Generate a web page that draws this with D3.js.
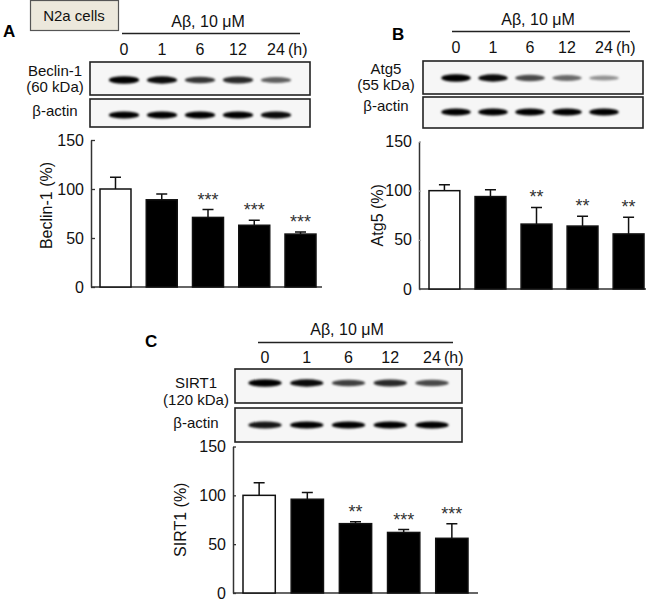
<!DOCTYPE html>
<html>
<head>
<meta charset="utf-8">
<script src="https://cdnjs.cloudflare.com/ajax/libs/d3/7.8.5/d3.min.js"></script>
<style>
  body { margin: 0; background: #fff; }
  svg { font-family: "Liberation Sans", Arial, sans-serif; }
</style>
</head>
<body>
<svg id="fig" width="652" height="601"></svg>
<script>
// time points (h) after A-beta treatment
const lanes = ['0', '1', '6', '12', '24'];
const yTicks = [0, 50, 100, 150];

// Beclin-1 (%), mean and upper SEM
const beclinMean = [100, 89, 71, 63, 54];
const beclinErr = [12, 6, 8, 5, 2];
const beclinStars = ['', '', '***', '***', '***'];
const beclinBand = [1, 0.95, 0.75, 0.8, 0.55];   // band darkness 0..1
const beclinActin = [1, 1, 1, 1, 0.95];

// Atg5 (%)
const atg5Mean = [100, 94, 66, 64, 56];
const atg5Err = [6, 7, 17, 10, 17];
const atg5Stars = ['', '', '**', '**', '**'];
const atg5Band = [1, 0.95, 0.65, 0.5, 0.3];
const atg5Actin = [1, 1, 1, 1, 1];

// SIRT1 (%)
const sirt1Mean = [100, 96, 71, 62, 56];
const sirt1Err = [13, 7, 2, 3, 15];
const sirt1Stars = ['', '', '**', '***', '***'];
const sirt1Band = [1, 0.95, 0.7, 0.8, 0.65];
const sirt1Actin = [0.9, 1, 1, 1, 1];

let svg = d3.select('#fig');

let defs = svg.append('defs');
defs.append('filter')
  .attr('id', 'blur')
  .attr('x', '-20%').attr('y', '-100%')
  .attr('width', '140%').attr('height', '300%')
  .append('feGaussianBlur')
  .attr('stdDeviation', 1.2);

// N2a cells box
svg.append('rect')
  .attr('x', 30.5).attr('y', 0.5)
  .attr('width', 88).attr('height', 30)
  .attr('fill', '#ece8dc')
  .attr('stroke', '#555')
  .attr('stroke-width', 1.2);
svg.append('text')
  .attr('x', 74).attr('y', 21)
  .attr('text-anchor', 'middle')
  .attr('font-size', 15)
  .attr('fill', '#111')
  .text('N2a cells');

let drawPanel = function (p) {
  let g = svg.append('g');

  // panel letter
  g.append('text')
    .attr('x', p.letterX).attr('y', p.letterY)
    .attr('font-size', 17)
    .attr('font-weight', 'bold')
    .text(p.letter);

  // treatment header
  g.append('text')
    .attr('x', p.treatX).attr('y', p.treatY)
    .attr('text-anchor', 'middle')
    .attr('font-size', 16)
    .attr('fill', '#111')
    .text('Aβ, 10 μM');
  g.append('line')
    .attr('x1', p.lineX0).attr('x2', p.lineX1)
    .attr('y1', p.lineY).attr('y2', p.lineY)
    .attr('stroke', '#222')
    .attr('stroke-width', 1.5);

  let lane = d3.scalePoint()
    .domain(lanes)
    .range(p.laneRange);

  g.selectAll('.lane')
    .data(lanes)
    .enter().append('text')
    .attr('class', 'lane')
    .attr('x', (d) => lane(d))
    .attr('y', p.laneY)
    .attr('text-anchor', 'middle')
    .attr('font-size', 16)
    .attr('fill', '#111')
    .text((d) => d);
  g.append('text')
    .attr('x', lane('24') + 12)
    .attr('y', p.laneY)
    .attr('font-size', 16)
    .attr('fill', '#111')
    .text('(h)');

  // blots
  let blot = function (y0, y1, bandY, values, thick) {
    g.append('rect')
      .attr('x', p.blotX0).attr('y', y0)
      .attr('width', p.blotX1 - p.blotX0)
      .attr('height', y1 - y0)
      .attr('fill', '#f6f6f6')
      .attr('stroke', '#222')
      .attr('stroke-width', 1.6);
    let w = lane.step() * 0.8;
    g.append('g')
      .attr('filter', 'url(#blur)')
      .selectAll('ellipse')
      .data(values)
      .enter().append('ellipse')
      .attr('cx', (d, i) => lane(lanes[i]))
      .attr('cy', bandY)
      .attr('rx', w / 2)
      .attr('ry', (d) => thick ? 3.6 : 2 + 1.8 * d)
      .attr('fill', '#000')
      .attr('opacity', (d) => 0.15 + 0.85 * d);
  };
  blot(p.protY0, p.protY1, p.protBandY, p.band, false);
  blot(p.actY0, p.actY1, p.actBandY, p.actin, true);

  g.selectAll('.pname')
    .data(p.names)
    .enter().append('text')
    .attr('class', 'pname')
    .attr('x', p.nameX)
    .attr('y', (d) => d[1])
    .attr('text-anchor', 'middle')
    .attr('font-size', 15)
    .attr('fill', '#111')
    .text((d) => d[0]);

  // bar chart
  let x = d3.scaleBand()
    .domain(lanes)
    .range([p.bar0, p.bar1])
    .paddingInner(0.33)
    .paddingOuter(0);

  let y = d3.scaleLinear()
    .domain([0, 150])
    .range([p.yBottom, p.yTop]);

  let ax = g.append('g')
    .attr('transform', 'translate(' + p.axisX + ',0)')
    .call(d3.axisLeft(y).tickValues(yTicks).tickSizeInner(-p.tickLen).tickSizeOuter(0).tickPadding(7));
  ax.select('.domain').attr('stroke', '#333').attr('stroke-width', 1.5);
  ax.selectAll('.tick line').attr('stroke', p.tickColor).attr('stroke-width', 1.3);
  ax.selectAll('.tick text')
    .attr('font-size', 16)
    .attr('fill', '#111')
    .attr('font-family', '"Liberation Sans", Arial, sans-serif');

  g.append('line')
    .attr('x1', p.axisX).attr('x2', p.xEnd)
    .attr('y1', y(0)).attr('y2', y(0))
    .attr('stroke', '#333')
    .attr('stroke-width', 1.5);

  let rows = lanes.map((l, i) => ({lane: l, mean: p.mean[i], err: p.err[i], star: p.stars[i], i: i}));

  // error bars
  g.selectAll('.err')
    .data(rows)
    .enter().append('path')
    .attr('class', 'err')
    .attr('d', (d) => {
      let cx = x(d.lane) + x.bandwidth() / 2;
      return 'M' + cx + ',' + y(d.mean) + 'V' + y(d.mean + d.err) +
        'M' + (cx - 5.5) + ',' + y(d.mean + d.err) + 'H' + (cx + 5.5);
    })
    .attr('fill', 'none')
    .attr('stroke', '#111')
    .attr('stroke-width', 1.5);

  g.selectAll('.bar')
    .data(rows)
    .enter().append('rect')
    .attr('class', 'bar')
    .attr('x', (d) => x(d.lane))
    .attr('width', x.bandwidth())
    .attr('y', (d) => y(d.mean))
    .attr('height', (d) => y(0) - y(d.mean))
    .attr('fill', (d) => d.i === 0 ? '#fff' : '#000')
    .attr('stroke', '#111')
    .attr('stroke-width', 1.5);

  g.selectAll('.star')
    .data(rows.filter((d) => d.star))
    .enter().append('text')
    .attr('class', 'star')
    .attr('x', (d) => x(d.lane) + x.bandwidth() / 2)
    .attr('y', (d) => y(d.mean + d.err) - 4)
    .attr('text-anchor', 'middle')
    .attr('font-size', 18)
    .attr('fill', '#333')
    .text((d) => d.star);

  g.append('text')
    .attr('transform', 'translate(' + p.ylabelX + ',' + ((y(0) + y(150)) / 2 + p.ylabelDy) + ') rotate(-90)')
    .attr('text-anchor', 'middle')
    .attr('dy', '0.35em')
    .attr('font-size', 16)
    .attr('fill', '#111')
    .text(p.ylabel);
};

drawPanel({
  letter: 'A', letterX: 3, letterY: 37,
  treatX: 208, treatY: 27, lineX0: 122, lineX1: 300, lineY: 33.5,
  laneRange: [124, 276], laneY: 55,
  blotX0: 90, blotX1: 310,
  protY0: 62, protY1: 95, protBandY: 80,
  actY0: 99, actY1: 127, actBandY: 115,
  band: beclinBand, actin: beclinActin,
  nameX: 55, names: [['Beclin-1', 76], ['(60 kDa)', 92], ['β-actin', 116]],
  axisX: 91, xEnd: 322, bar0: 100, bar1: 316, yTop: 140, yBottom: 287,
  tickLen: 4, tickColor: '#333',
  mean: beclinMean, err: beclinErr, stars: beclinStars,
  ylabel: 'Beclin-1 (%)', ylabelX: 46, ylabelDy: -8
});

drawPanel({
  letter: 'B', letterX: 392, letterY: 40,
  treatX: 538, treatY: 25, lineX0: 452, lineX1: 630, lineY: 31.5,
  laneRange: [456, 604], laneY: 53,
  blotX0: 423, blotX1: 643,
  protY0: 61, protY1: 94, protBandY: 78,
  actY0: 97, actY1: 128, actBandY: 112,
  band: atg5Band, actin: atg5Actin,
  nameX: 386, names: [['Atg5', 74], ['(55 kDa)', 90], ['β-actin', 111]],
  axisX: 419, xEnd: 646, bar0: 429, bar1: 644, yTop: 141.5, yBottom: 289,
  tickLen: 2, tickColor: '#aaa',
  mean: atg5Mean, err: atg5Err, stars: atg5Stars,
  ylabel: 'Atg5 (%)', ylabelX: 377, ylabelDy: 0
});

drawPanel({
  letter: 'C', letterX: 145, letterY: 347,
  treatX: 347, treatY: 335, lineX0: 258, lineX1: 453, lineY: 342.5,
  laneRange: [265, 432], laneY: 363,
  blotX0: 235, blotX1: 462,
  protY0: 369, protY1: 403, protBandY: 383,
  actY0: 408, actY1: 442, actBandY: 425,
  band: sirt1Band, actin: sirt1Actin,
  nameX: 196, names: [['SIRT1', 388], ['(120 kDa)', 405], ['β-actin', 428]],
  axisX: 233, xEnd: 478, bar0: 243, bar1: 468, yTop: 446.5, yBottom: 593,
  tickLen: 3, tickColor: '#333',
  mean: sirt1Mean, err: sirt1Err, stars: sirt1Stars,
  ylabel: 'SIRT1 (%)', ylabelX: 180, ylabelDy: 0
});
</script>
</body>
</html>
